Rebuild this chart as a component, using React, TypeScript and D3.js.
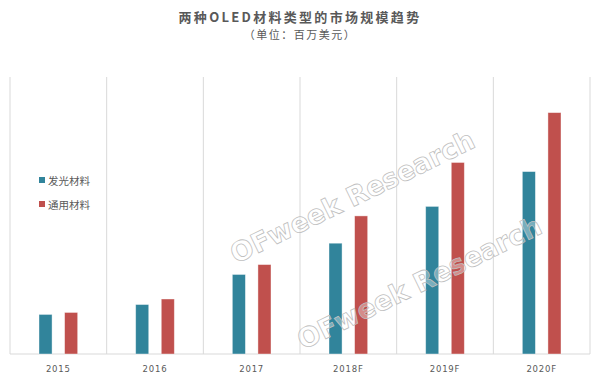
import React from "react";
import * as d3 from "d3";

const categories = ["2015", "2016", "2017", "2018F", "2019F", "2020F"];
const seriesNames = ["发光材料", "通用材料"];
const emissive = [100, 125, 201, 280, 373, 461];
const general = [105, 139, 226, 349, 484, 610];
const seriesColors = ["#31849B", "#C0504D"];
const title = "两种OLED材料类型的市场规模趋势";
const subtitle = "（单位：百万美元）";
const watermark = "OFweek Research";

const W = 600;
const H = 377;
const left = 10;
const right = 590;
const top = 77;
const bottom = 354;

export default function App() {
  const x = d3.scaleBand<string>().domain(categories).range([left, right]).padding(0);
  const cw = x.bandwidth();
  const inner = d3
    .scaleBand<string>()
    .domain(seriesNames)
    .range([cw * 0.3, cw * 0.7])
    .paddingInner(0.49);
  const y = d3.scaleLinear().domain([0, 700]).range([bottom, top]);
  const data = [emissive, general];
  const gridXs = [...categories.map((c) => x(c) as number), right];
  const cjk = "'Noto Sans CJK SC', 'Noto Sans', sans-serif";

  return (
    <svg width={W} height={H} style={{ position: "absolute", left: 0, top: 0, background: "#fff" }}>
      <rect x={0} y={0} width={W} height={H} fill="#fff" />
      <text x={300} y={22} textAnchor="middle" fontFamily={cjk} fontSize={13} fontWeight={700} fill="#595959" letterSpacing={2.3}>
        {title}
      </text>
      <text x={300} y={39} textAnchor="middle" fontFamily={cjk} fontSize={11} fill="#595959" letterSpacing={1.5}>
        {subtitle}
      </text>
      {gridXs.map((gx, i) => (
        <line key={i} x1={gx} x2={gx} y1={top} y2={bottom} stroke="#d9d9d9" strokeWidth={1} />
      ))}
      <line x1={left} x2={right} y1={bottom} y2={bottom} stroke="#d9d9d9" strokeWidth={1} />
      {data.map((vals, si) =>
        categories.map((c, ci) => {
          const bx = (x(c) as number) + (inner(seriesNames[si]) as number);
          return (
            <rect
              key={`${si}-${ci}`}
              x={bx}
              y={y(vals[ci])}
              width={inner.bandwidth()}
              height={bottom - y(vals[ci])}
              fill={seriesColors[si]}
              stroke="#ffffff"
              strokeOpacity={0.5}
              strokeWidth={0.8}
            />
          );
        })
      )}
      {categories.map((c) => (
        <text
          key={c}
          x={(x(c) as number) + cw / 2}
          y={372}
          textAnchor="middle"
          fontFamily="'DejaVu Sans', sans-serif"
          fontSize={8.5}
          fill="#595959"
          letterSpacing={0.8}
        >
          {c}
        </text>
      ))}
      {seriesNames.map((s, i) => (
        <g key={s} transform={`translate(39, ${181 + i * 24})`}>
          <rect x={0} y={-4} width={6} height={6} fill={seriesColors[i]} />
          <text x={9} y={3.5} fontFamily={cjk} fontSize={10.5} fill="#595959">
            {s}
          </text>
        </g>
      ))}
      {[
        [236, 264],
        [303, 350],
      ].map(([wx, wy], i) => (
        <text
          key={i}
          transform={`translate(${wx},${wy}) rotate(-26)`}
          fontFamily="'DejaVu Sans', sans-serif"
          fontWeight={700}
          fontSize={27}
          fill="#ffffff"
          fillOpacity={0.35}
          stroke="#bfbfbf"
          strokeWidth={0.8}
          textLength={268}
          lengthAdjust="spacingAndGlyphs"
        >
          {watermark}
        </text>
      ))}
    </svg>
  );
}
